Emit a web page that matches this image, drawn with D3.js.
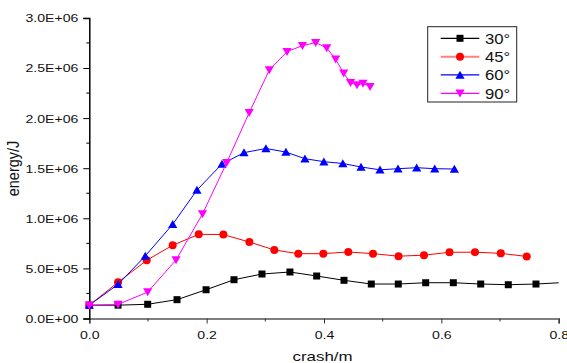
<!DOCTYPE html>
<html>
<head>
<meta charset="utf-8">
<script src="https://cdn.jsdelivr.net/npm/d3@7"></script>
<style>
  body { margin: 0; background: #fff; }
  svg { display: block; font-family: "Liberation Sans", Arial, sans-serif; }
</style>
</head>
<body>
<svg id="chart" width="567" height="363"></svg>
<script>
//////////////// DATA ////////////////

var series = ["30°", "45°", "60°", "90°"];

// 30 deg (last point sits past 0.8 and is clipped)
var x30 = [0, 0.049, 0.0995, 0.1495, 0.199, 0.2466, 0.2943, 0.342, 0.3875, 0.4341, 0.4806, 0.5266, 0.5733, 0.6204, 0.6671, 0.7141, 0.7613, 0.808];
var y30 = [1.33e5, 1.33e5, 1.42e5, 1.88e5, 2.87e5, 3.87e5, 4.44e5, 4.64e5, 4.24e5, 3.81e5, 3.44e5, 3.44e5, 3.57e5, 3.57e5, 3.44e5, 3.37e5, 3.44e5, 3.59e5];

// 45 deg
var x45 = [0, 0.049, 0.0978, 0.1421, 0.1865, 0.2285, 0.2728, 0.3153, 0.3562, 0.3988, 0.4414, 0.4835, 0.527, 0.5704, 0.6139, 0.6573, 0.7013, 0.7455];
var y45 = [1.33e5, 3.61e5, 5.81e5, 7.31e5, 8.4e5, 8.38e5, 7.63e5, 6.84e5, 6.47e5, 6.47e5, 6.64e5, 6.47e5, 6.22e5, 6.32e5, 6.61e5, 6.62e5, 6.5e5, 6.19e5];

// 60 deg
var x60 = [0, 0.049, 0.0954, 0.1421, 0.1835, 0.2261, 0.2636, 0.301, 0.3351, 0.3675, 0.3998, 0.4321, 0.4631, 0.4954, 0.5261, 0.558, 0.5887, 0.6222];
var y60 = [1.33e5, 3.41e5, 6.24e5, 9.4e5, 1.282e6, 1.542e6, 1.655e6, 1.697e6, 1.661e6, 1.595e6, 1.565e6, 1.547e6, 1.512e6, 1.484e6, 1.495e6, 1.505e6, 1.495e6, 1.492e6];

// 90 deg
var x90 = [0, 0.049, 0.0995, 0.1478, 0.1929, 0.2342, 0.2725, 0.3068, 0.337, 0.3633, 0.3858, 0.4046, 0.4199, 0.4336, 0.4452, 0.4563, 0.4665, 0.4785];
var y90 = [1.33e5, 1.4e5, 2.64e5, 5.84e5, 1.043e6, 1.555e6, 2.054e6, 2.48e6, 2.663e6, 2.723e6, 2.753e6, 2.7e6, 2.587e6, 2.447e6, 2.353e6, 2.33e6, 2.347e6, 2.314e6];

// Ticks
var xTicks = [0, 0.2, 0.4, 0.6, 0.8],
    xMinor = [0.1, 0.3, 0.5, 0.7],
    xTickLabels = ["0.0", "0.2", "0.4", "0.6", "0.8"];
var yTicks = [0, 5e5, 1e6, 1.5e6, 2e6, 2.5e6, 3e6],
    yMinor = [2.5e5, 7.5e5, 1.25e6, 1.75e6, 2.25e6, 2.75e6],
    yTickLabels = ["0.0E+00", "5.0E+05", "1.0E+06", "1.5E+06", "2.0E+06", "2.5E+06", "3.0E+06"];

//////////////// STYLE ////////////////

var colors = ["#000000", "#ff0000", "#0000ff", "#ff00ff"],
    legendLine = ["#000000", "#ff7f7f", "#0000ff", "#ff00ff"],
    shapes = ["square", "circle", "up", "down"];

var svg = d3.select("#chart");

var x = d3.scaleLinear().domain([0, 0.8]).range([89.3, 558.7]);
var y = d3.scaleLinear().domain([0, 3e6]).range([318.5, 17.9]);

// squeeze factor - the source picture is stretched sideways
var sx = 1.28;

// Marker path centred on (0,0)
var markerPath = function(shape) {
    if (shape == "square") return "M-3.5,-3.5h7v7h-7z";
    if (shape == "circle") return "M-4,0a4,4 0 1,0 8,0a4,4 0 1,0 -8,0z";
    if (shape == "up") return "M0,-4.3L4.6,3.7L-4.6,3.7z";
    return "M0,4.3L4.6,-3.7L-4.6,-3.7z";
};

//////////////// AXES ////////////////

var xAxis = d3.axisBottom(x).tickValues(xTicks)
    .tickFormat(function(d, i) { return xTickLabels[i]; })
    .tickSizeOuter(0).tickSize(5).tickPadding(4);
var gx = svg.append("g")
    .attr("transform", "translate(0," + y(0) + ")")
    .call(xAxis);
gx.select(".domain").attr("stroke", "#555").attr("stroke-width", 1.6);
gx.selectAll(".tick line").attr("stroke", "#333").attr("stroke-width", 1);
gx.selectAll(".tick text")
    .attr("font-size", 11).attr("fill", "#111")
    .attr("y", 0).attr("dy", 0)
    .attr("transform", "translate(0,20) scale(" + sx + ",1)");
gx.selectAll(".minor").data(xMinor).enter().append("line")
    .attr("x1", function(d) { return x(d); }).attr("x2", function(d) { return x(d); })
    .attr("y1", 0).attr("y2", 3).attr("stroke", "#333");

var yAxis = d3.axisLeft(y).tickValues(yTicks)
    .tickFormat(function(d, i) { return yTickLabels[i]; })
    .tickSizeOuter(0).tickSize(6);
var gy = svg.append("g")
    .attr("transform", "translate(" + x(0) + ",0)")
    .call(yAxis);
gy.select(".domain").attr("stroke", "#000").attr("stroke-width", 1.5);
gy.selectAll(".tick line").attr("stroke", "#000");
gy.selectAll(".tick text")
    .attr("font-size", 11).attr("fill", "#111")
    .attr("x", 0).attr("dy", "0.36em")
    .attr("transform", "translate(-11,0) scale(" + sx + ",1)");
gy.selectAll(".minor").data(yMinor).enter().append("line")
    .attr("y1", function(d) { return y(d); }).attr("y2", function(d) { return y(d); })
    .attr("x1", 0).attr("x2", -3).attr("stroke", "#000");

// Axis titles
svg.append("text")
    .attr("transform", "translate(322.5,360.5) scale(1.25,1)")
    .attr("text-anchor", "middle")
    .attr("font-size", 13.5)
    .attr("fill", "#111")
    .text("crash/m");

svg.append("text")
    .attr("transform", "translate(19,168.5) scale(1.2,1) rotate(-90)")
    .attr("text-anchor", "middle")
    .attr("font-size", 14.5)
    .attr("fill", "#111")
    .text("energy/J");

//////////////// SERIES ////////////////

svg.append("clipPath").attr("id", "plotClip")
    .append("rect")
    .attr("x", x(0)).attr("y", 0)
    .attr("width", x(0.8) - x(0)).attr("height", y(0));

var allX = [x30, x45, x60, x90],
    allY = [y30, y45, y60, y90];

var line = d3.line()
    .x(function(d) { return x(d[0]); })
    .y(function(d) { return y(d[1]); });

allX.forEach(function(xs, s) {
    var pts = xs.map(function(v, i) { return [v, allY[s][i]]; });
    var g = svg.append("g");

    g.append("path")
        .datum(pts)
        .attr("d", line)
        .attr("fill", "none")
        .attr("stroke", colors[s])
        .attr("stroke-width", 1)
        .attr("clip-path", "url(#plotClip)");

    g.selectAll("path.mk")
        .data(pts.filter(function(d) { return d[0] <= 0.8; }))
        .enter().append("path")
        .attr("class", "mk")
        .attr("d", markerPath(shapes[s]))
        .attr("transform", function(d) { return "translate(" + x(d[0]) + "," + y(d[1]) + ")"; })
        .attr("fill", colors[s]);
});

//////////////// LEGEND ////////////////

var legend = svg.append("g");
legend.append("rect")
    .attr("x", 427.7).attr("y", 26.7)
    .attr("width", 89).attr("height", 75.3)
    .attr("fill", "#fff").attr("stroke", "#222").attr("stroke-width", 1);

var rowY = d3.scaleLinear().domain([0, 3]).range([38.3, 93.3]);

series.forEach(function(name, s) {
    var ry = rowY(s);
    legend.append("line")
        .attr("x1", 440.7).attr("x2", 479.3)
        .attr("y1", ry).attr("y2", ry)
        .attr("stroke", legendLine[s])
        .attr("stroke-width", s == 1 ? 2 : 1.2);
    legend.append("path")
        .attr("d", markerPath(shapes[s]))
        .attr("transform", "translate(460," + ry + ")")
        .attr("fill", colors[s]);
    legend.append("text")
        .attr("transform", "translate(485," + (ry + 5.2) + ") scale(1.15,1)")
        .attr("font-size", 14.5)
        .attr("fill", "#111")
        .text(name);
});
</script>
</body>
</html>
